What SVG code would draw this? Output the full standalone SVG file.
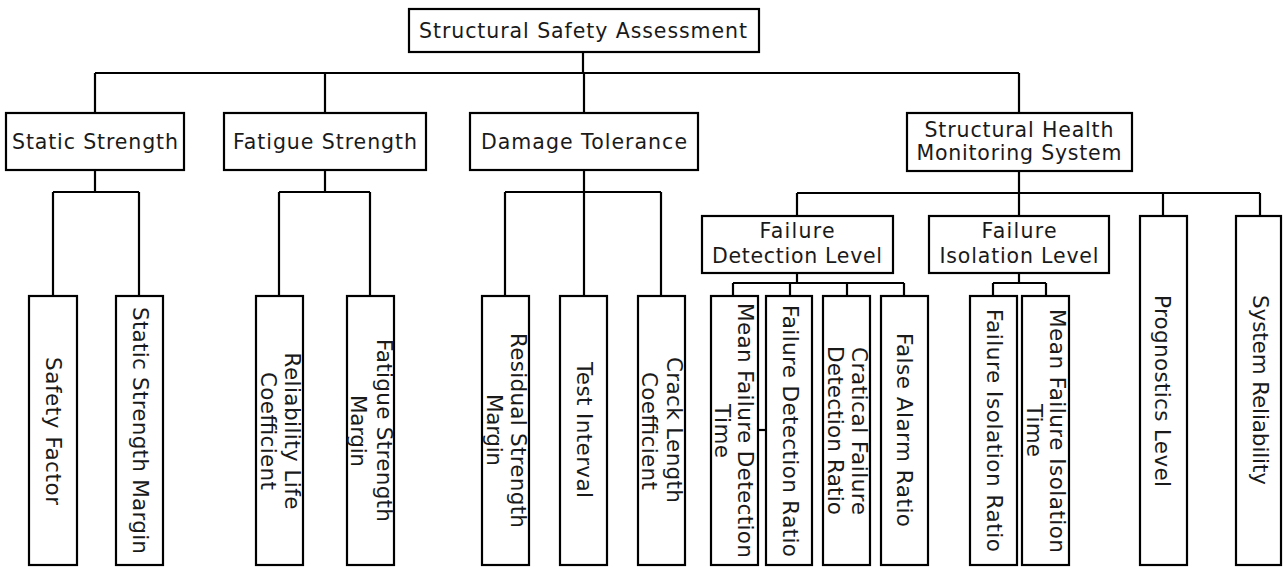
<svg xmlns="http://www.w3.org/2000/svg" width="1283" height="567" viewBox="0 0 1283 567">
<style>
.box{fill:#fff;stroke:#000;stroke-width:2.2}
.ln{stroke:#000;stroke-width:2.2;fill:none}
.t{font-family:"DejaVu Sans","Liberation Sans",sans-serif;font-size:20.5px;fill:#1a1a1a;text-anchor:middle}
.v{font-family:"DejaVu Sans","Liberation Sans",sans-serif;font-size:21.5px;fill:#1a1a1a;text-anchor:middle}
</style>
<rect width="1283" height="567" fill="#fff"/>
<g id="connectors">
<path class="ln" d="M583 52V73M95 73H1019M95 73V113M325 73V113M584 73V113M1019 73V113"/>
<path class="ln" d="M95 170V192M53 192H139M53 192V296M139 192V296"/>
<path class="ln" d="M325 170V192M279 192H370M279 192V296M370 192V296"/>
<path class="ln" d="M584 170V192M505 192H661M505 192V296M584 192V296M661 192V296"/>
<path class="ln" d="M1019 171V193M797 193H1260M797 193V216M1019 193V216M1163 193V216M1260 193V216"/>
<path class="ln" d="M797 273V283M733 283H904M733 283V296M790 283V296M847 283V296M904 283V296"/>
<path class="ln" d="M1019 273V283M993 283H1046M993 283V296M1046 283V296"/>
<path class="ln" d="M758 430H766" stroke-width="1.5"/>
</g>
<g id="n-root"><rect class="box" x="409" y="9" width="350" height="43"/><text class="t" x="583" y="37.5" textLength="328">Structural Safety Assessment</text></g>
<g id="n-static"><rect class="box" x="6" y="113" width="178" height="57"/><text class="t" x="95" y="148.5" textLength="166">Static Strength</text></g>
<g id="n-fatigue"><rect class="box" x="224" y="113" width="202" height="57"/><text class="t" x="325" y="148.5" textLength="184">Fatigue Strength</text></g>
<g id="n-damage"><rect class="box" x="470" y="113" width="228" height="57"/><text class="t" x="584" y="148.5" textLength="206">Damage Tolerance</text></g>
<g id="n-shms"><rect class="box" x="907" y="113" width="225" height="58"/><text class="t" x="1019" y="136.5" textLength="189">Structural Health</text><text class="t" x="1019" y="159.5" textLength="205">Monitoring System</text></g>
<g id="n-fdl"><rect class="box" x="702" y="216" width="191" height="57"/><text class="t" x="797" y="237.5" textLength="75">Failure</text><text class="t" x="797" y="262.5" textLength="170">Detection Level</text></g>
<g id="n-fil"><rect class="box" x="929" y="216" width="180" height="57"/><text class="t" x="1019" y="237.5" textLength="75">Failure</text><text class="t" x="1019" y="263" textLength="159">Isolation Level</text></g>
<g id="n-safety"><rect class="box" x="29" y="296" width="48" height="269"/><text class="v" transform="translate(46 431) rotate(90)" textLength="148">Safety Factor</text></g>
<g id="n-ssm"><rect class="box" x="116" y="296" width="47" height="269"/><text class="v" transform="translate(133 430.5) rotate(90)" textLength="247">Static Strength Margin</text></g>
<g id="n-rlc"><rect class="box" x="256" y="296" width="47" height="269"/><text class="v" transform="translate(285 431) rotate(90)" textLength="157">Reliability Life</text><text class="v" transform="translate(261 431) rotate(90)" textLength="118">Coefficient</text></g>
<g id="n-fsm"><rect class="box" x="347" y="296" width="47" height="269"/><text class="v" transform="translate(377 430.5) rotate(90)" textLength="183">Fatigue Strength</text><text class="v" transform="translate(351 431) rotate(90)" textLength="72">Margin</text></g>
<g id="n-rsm"><rect class="box" x="482" y="296" width="47" height="269"/><text class="v" transform="translate(511 430.5) rotate(90)" textLength="195">Residual Strength</text><text class="v" transform="translate(487 430) rotate(90)" textLength="72">Margin</text></g>
<g id="n-ti"><rect class="box" x="560" y="296" width="47" height="269"/><text class="v" transform="translate(577 430) rotate(90)" textLength="136">Test Interval</text></g>
<g id="n-clc"><rect class="box" x="638" y="296" width="47" height="269"/><text class="v" transform="translate(667 430) rotate(90)" textLength="146">Crack Length</text><text class="v" transform="translate(642 431) rotate(90)" textLength="118">Coefficient</text></g>
<g id="n-mfdt"><rect class="box" x="711" y="296" width="47" height="269"/><text class="v" transform="translate(738 430.5) rotate(90)" textLength="255">Mean Failure Detection</text><text class="v" transform="translate(715 431) rotate(90)" textLength="54">Time</text></g>
<g id="n-fdr"><rect class="box" x="766" y="296" width="46" height="269"/><text class="v" transform="translate(783 431) rotate(90)" textLength="252">Failure Detection Ratio</text></g>
<g id="n-cfdr"><rect class="box" x="823" y="296" width="47" height="269"/><text class="v" transform="translate(852 431) rotate(90)" textLength="168">Cratical Failure</text><text class="v" transform="translate(828 430.5) rotate(90)" textLength="169">Detection Ratio</text></g>
<g id="n-far"><rect class="box" x="881" y="296" width="47" height="269"/><text class="v" transform="translate(897 430) rotate(90)" textLength="194">False Alarm Ratio</text></g>
<g id="n-fir"><rect class="box" x="970" y="296" width="47" height="269"/><text class="v" transform="translate(987 430.5) rotate(90)" textLength="243">Failure Isolation Ratio</text></g>
<g id="n-mfit"><rect class="box" x="1022" y="296" width="47" height="269"/><text class="v" transform="translate(1050 431) rotate(90)" textLength="244">Mean Failure Isolation</text><text class="v" transform="translate(1027 430.5) rotate(90)" textLength="53">Time</text></g>
<g id="n-prog"><rect class="box" x="1140" y="216" width="47" height="349"/><text class="v" transform="translate(1155 391) rotate(90)" textLength="192">Prognostics Level</text></g>
<g id="n-sysrel"><rect class="box" x="1236" y="216" width="45" height="349"/><text class="v" transform="translate(1253 390) rotate(90)" textLength="190">System Reliability</text></g>
</svg>
